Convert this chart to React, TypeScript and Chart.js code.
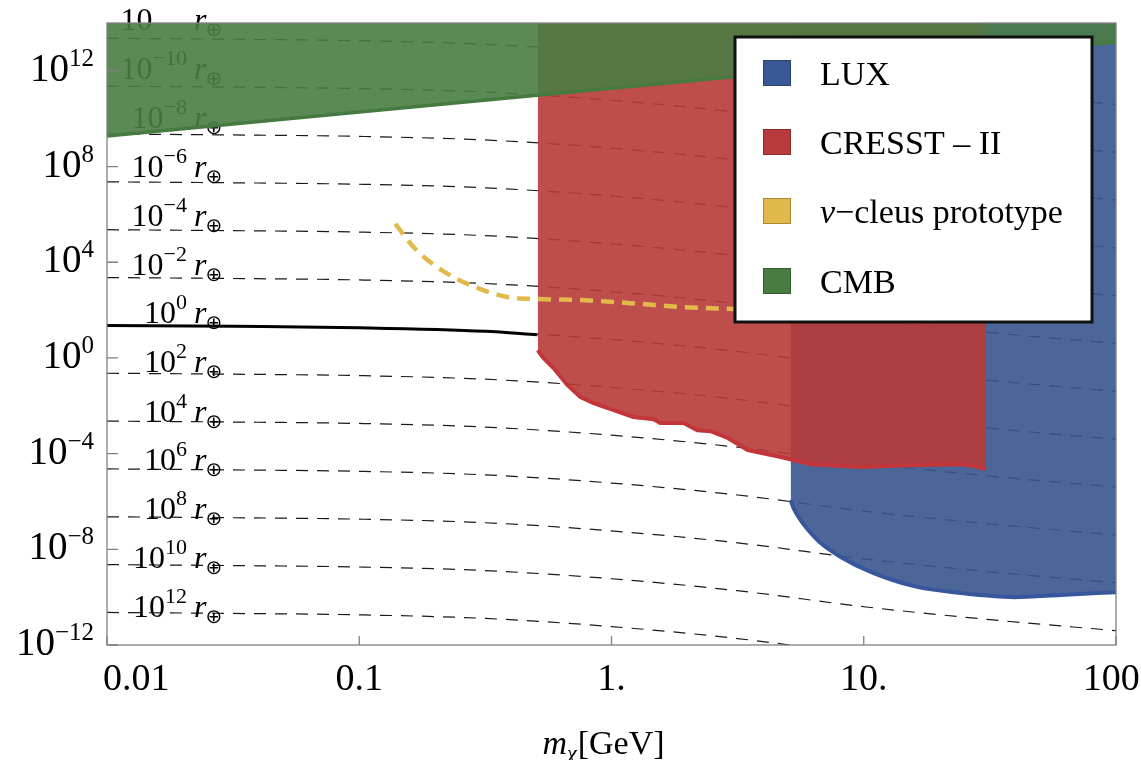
import React, { useEffect, useRef } from "react";
import { Chart, registerables } from "chart.js";

Chart.register(...registerables);

// ---------- data ----------
// Iso-radius reference curves: sigma vs mass for r = 10^e r_earth
const massGrid = [0.01, 0.0316, 0.1, 0.316, 1, 3.16, 10, 31.6, 100];
const radiusExponents = [-12, -10, -8, -6, -4, -2, 0, 2, 4, 6, 8, 10, 12];
const rLineM12 = [2.29e13, 2.09e13, 1.82e13, 1.29e13, 5.89e12, 1.86e12, 3.98e11, 1.15e11, 3.98e10];
const rLineM10 = [2.29e11, 2.09e11, 1.82e11, 1.29e11, 5.89e10, 1.86e10, 3.98e9, 1.15e9, 3.98e8];
const rLineM8 = [2.29e9, 2.09e9, 1.82e9, 1.29e9, 5.89e8, 1.86e8, 3.98e7, 1.15e7, 3.98e6];
const rLineM6 = [2.29e7, 2.09e7, 1.82e7, 1.29e7, 5.89e6, 1.86e6, 3.98e5, 1.15e5, 3.98e4];
const rLineM4 = [2.29e5, 2.09e5, 1.82e5, 1.29e5, 5.89e4, 1.86e4, 3.98e3, 1.15e3, 3.98e2];
const rLineM2 = [2.29e3, 2.09e3, 1.82e3, 1.29e3, 5.89e2, 1.86e2, 3.98e1, 1.15e1, 3.98e0];
const rLine0 = [2.29e1, 2.09e1, 1.82e1, 1.29e1, 5.89e0, 1.86e0, 3.98e-1, 1.15e-1, 3.98e-2];
const rLineP2 = [2.29e-1, 2.09e-1, 1.82e-1, 1.29e-1, 5.89e-2, 1.86e-2, 3.98e-3, 1.15e-3, 3.98e-4];
const rLineP4 = [2.29e-3, 2.09e-3, 1.82e-3, 1.29e-3, 5.89e-4, 1.86e-4, 3.98e-5, 1.15e-5, 3.98e-6];
const rLineP6 = [2.29e-5, 2.09e-5, 1.82e-5, 1.29e-5, 5.89e-6, 1.86e-6, 3.98e-7, 1.15e-7, 3.98e-8];
const rLineP8 = [2.29e-7, 2.09e-7, 1.82e-7, 1.29e-7, 5.89e-8, 1.86e-8, 3.98e-9, 1.15e-9, 3.98e-10];
const rLineP10 = [2.29e-9, 2.09e-9, 1.82e-9, 1.29e-9, 5.89e-10, 1.86e-10, 3.98e-11, 1.15e-11, 3.98e-12];
const rLineP12 = [2.29e-11, 2.09e-11, 1.82e-11, 1.29e-11, 5.89e-12, 1.86e-12, 3.98e-13, 1.15e-13, 3.98e-14];
const radiusLines = [rLineM12, rLineM10, rLineM8, rLineM6, rLineM4, rLineM2, rLine0, rLineP2, rLineP4, rLineP6, rLineP8, rLineP10, rLineP12];
// sigma at which each curve label sits (baseline)
const radiusLabelSigma = [5.0e13, 4.6e11, 4.2e9, 3.7e7, 3.4e5, 3.0e3, 2.75e1, 2.5e-1, 2.2e-3, 2.0e-5, 1.8e-7, 1.7e-9, 1.5e-11];

// solid r = 1 r_earth segment
const solidMass = [0.01, 0.0316, 0.1, 0.316, 0.508];
const solidSigma = [22.9, 20.9, 18.2, 12.9, 9.2];

// CMB lower boundary (excluded above)
const cmbMass = [0.01, 0.1, 1, 10, 100];
const cmbSigma = [1.9e9, 1.9e10, 1.86e11, 1.82e12, 1.6e13];

// CRESST-II lower boundary
const cresstMass = [0.51, 0.537, 0.589, 0.668, 0.753, 0.849, 1.02, 1.22, 1.47, 1.56, 1.93, 2.19, 2.47, 2.89, 3.47, 4.69, 6.17, 9.73, 15.4, 24.3, 27.4, 30.5];
const cresstSigma = [2.1, 1.0, 0.38, 0.074, 0.023, 0.0129, 0.0066, 0.0034, 0.00275, 0.0019, 0.0019, 0.00095, 0.00087, 0.00045, 1.41e-4, 7.2e-5, 3.6e-5, 2.75e-5, 3.3e-5, 3.6e-5, 3.0e-5, 2.24e-5];

// LUX lower boundary
const luxMass = [5.13, 5.27, 5.62, 6.17, 6.75, 8.1, 10.7, 15.8, 24.3, 39.4, 60.5, 100];
const luxSigma = [1.15e-6, 5.25e-7, 1.66e-7, 4.8e-8, 1.82e-8, 4.8e-9, 1.12e-9, 2.9e-10, 1.48e-10, 1.0e-10, 1.23e-10, 1.62e-10];

// nu-cleus prototype
const nucleusMass = [0.139, 0.164, 0.191, 0.236, 0.302, 0.386, 0.508, 0.753, 1.19, 1.88, 3.05];
const nucleusSigma = [3.98e5, 4.37e4, 1.02e4, 2.4e3, 759, 355, 288, 263, 195, 135, 110];

// axes
const xTicks = [0.01, 0.1, 1, 10, 100];
const xTickLabels = ["0.01", "0.1", "1.", "10.", "100."];
const yTicks = [1e12, 1e8, 1e4, 1, 1e-4, 1e-8, 1e-12];
const yTickExponents = ["12", "8", "4", "0", "\u22124", "\u22128", "\u221212"];

// legend
const legendLabels = ["LUX", "CRESST \u2013 II", "\u03bd\u2212cleus prototype", "CMB"];
const legendColors = ["rgb(58,88,150)", "rgb(184,58,60)", "rgb(224,184,76)", "rgb(72,122,66)"];

const SERIF = '"Liberation Serif", "Times New Roman", "DejaVu Serif", serif';

function toPoints(xs: number[], ys: number[]) {
  return xs.map((x, i) => ({ x, y: ys[i] }));
}

const FIRST_DASH_INDEX = 5;

function drawPower(ctx: CanvasRenderingContext2D, xRight: number, yBase: number, base: string, exp: string,
  baseSize: number, expSize: number, rise: number, drawExp = true) {
  ctx.font = `${expSize}px ${SERIF}`;
  const we = ctx.measureText(exp).width;
  ctx.font = `${baseSize}px ${SERIF}`;
  const wb = ctx.measureText(base).width;
  ctx.textAlign = "left";
  ctx.textBaseline = "alphabetic";
  ctx.fillText(base, xRight - we - wb, yBase);
  if (drawExp) {
    ctx.font = `${expSize}px ${SERIF}`;
    ctx.fillText(exp, xRight - we, yBase - rise);
  }
}

const overlayPlugin = {
  id: "overlay",
  afterDatasetDraw(chart: any, args: any) {
    if (args.index !== FIRST_DASH_INDEX) return;
    const ctx: CanvasRenderingContext2D = chart.ctx;
    const ys = chart.scales.y;
    const left = chart.chartArea.left;
    ctx.save();
    ctx.fillStyle = "#000";
    radiusExponents.forEach((e, k) => {
      const yb = ys.getPixelForValue(radiusLabelSigma[k]);
      const expStr = e < 0 ? "\u2212" + Math.abs(e) : String(e);
      drawPower(ctx, left + 80, yb, "10", expStr, 32, 22, 14, k !== 0);
      ctx.font = `italic 32px ${SERIF}`;
      ctx.fillText("r", left + 87, yb);
      const wr = ctx.measureText("r").width;
      ctx.font = `20px "DejaVu Sans", ${SERIF}`;
      ctx.fillText("\u2295", left + 87 + wr - 1, yb + 6);
    });
    ctx.restore();
  },
  afterDraw(chart: any) {
    const ctx: CanvasRenderingContext2D = chart.ctx;
    const { left, right, top, bottom } = chart.chartArea;
    const xs = chart.scales.x;
    const ys = chart.scales.y;
    ctx.save();
    // frame
    ctx.strokeStyle = "#808080";
    ctx.lineWidth = 1.3;
    ctx.strokeRect(left, top, right - left, bottom - top);
    // ticks
    ctx.beginPath();
    xTicks.forEach((v) => {
      const x = xs.getPixelForValue(v);
      ctx.moveTo(x, bottom);
      ctx.lineTo(x, bottom - 9);
    });
    yTicks.forEach((v) => {
      const y = ys.getPixelForValue(v);
      ctx.moveTo(left, y);
      ctx.lineTo(left + 11, y);
    });
    ctx.stroke();
    // x tick labels
    ctx.fillStyle = "#000";
    ctx.font = `38px ${SERIF}`;
    ctx.textBaseline = "alphabetic";
    xTicks.forEach((v, i) => {
      const x = xs.getPixelForValue(v);
      if (i === 0) {
        ctx.textAlign = "left";
        ctx.fillText(xTickLabels[i], x - 4, bottom + 45);
      } else {
        ctx.textAlign = "center";
        ctx.fillText(xTickLabels[i], x, bottom + 45);
      }
    });
    // y tick labels
    yTicks.forEach((v, i) => {
      const y = ys.getPixelForValue(v);
      drawPower(ctx, left - 13, y + 10, "10", yTickExponents[i], 39, 25, 15);
    });
    // x axis title  m_chi [GeV]
    {
      const yb = bottom + 109;
      ctx.textAlign = "left";
      ctx.font = `italic 34px ${SERIF}`;
      const wm = ctx.measureText("m").width;
      ctx.font = `italic 22px ${SERIF}`;
      const wc = ctx.measureText("\u03c7").width;
      ctx.font = `34px ${SERIF}`;
      const wg = ctx.measureText("[GeV]").width;
      const x0 = 603 - (wm + wc + wg) / 2;
      ctx.font = `italic 34px ${SERIF}`;
      ctx.fillText("m", x0, yb);
      ctx.font = `italic 22px ${SERIF}`;
      ctx.fillText("\u03c7", x0 + wm, yb + 6);
      ctx.font = `34px ${SERIF}`;
      ctx.fillText("[GeV]", x0 + wm + wc + 1, yb);
    }
    // legend
    {
      const bx = 735, by = 37, bw = 357, bh = 285;
      ctx.fillStyle = "#fff";
      ctx.fillRect(bx, by, bw, bh);
      ctx.strokeStyle = "#111";
      ctx.lineWidth = 3;
      ctx.strokeRect(bx, by, bw, bh);
      const centers = [73, 142, 211, 281];
      legendLabels.forEach((lab, i) => {
        const cy = centers[i];
        ctx.fillStyle = legendColors[i];
        ctx.fillRect(763, cy - 13, 28, 26);
        ctx.strokeStyle = "rgba(0,0,0,0.25)";
        ctx.lineWidth = 1;
        ctx.strokeRect(763.5, cy - 12.5, 27, 25);
        ctx.fillStyle = "#000";
        ctx.textAlign = "left";
        if (i === 2) {
          ctx.font = `italic 34px ${SERIF}`;
          ctx.fillText("\u03bd", 820, cy + 12);
          const wn = ctx.measureText("\u03bd").width;
          ctx.font = `34px ${SERIF}`;
          ctx.fillText(lab.slice(1), 820 + wn, cy + 12);
        } else {
          ctx.font = `34px ${SERIF}`;
          ctx.fillText(lab, 820, cy + 12);
        }
      });
    }
    ctx.restore();
  },
};

export default function App() {
  const ref = useRef<HTMLCanvasElement>(null);
  useEffect(() => {
    const canvas = ref.current;
    if (!canvas) return;
    const datasets: any[] = [
      {
        label: "nucleus", data: toPoints(nucleusMass, nucleusSigma),
        borderColor: "rgb(226,185,75)", borderWidth: 4.5, borderDash: [13, 8],
        fill: false, order: 0, cubicInterpolationMode: "monotone",
      },
      {
        label: "r0solid", data: toPoints(solidMass, solidSigma),
        borderColor: "#000", borderWidth: 3, fill: false, order: 1,
        cubicInterpolationMode: "monotone",
      },
      {
        label: "CMB", data: toPoints(cmbMass, cmbSigma),
        borderColor: "rgb(70,122,64)", borderWidth: 3.5,
        backgroundColor: "rgba(74,125,69,0.9)", fill: "end", order: 2, tension: 0,
      },
      {
        label: "CRESST", data: toPoints(cresstMass, cresstSigma),
        borderColor: "rgb(194,54,57)", borderWidth: 4,
        backgroundColor: "rgba(183,59,57,0.9)", fill: "end", order: 3, tension: 0,
      },
      {
        label: "LUX", data: toPoints(luxMass, luxSigma),
        borderColor: "rgb(56,86,156)", borderWidth: 4,
        backgroundColor: "rgba(57,85,142,0.9)", fill: "end", order: 4,
        cubicInterpolationMode: "monotone",
      },
      ...radiusLines.map((row, k) => ({
        label: "r" + radiusExponents[k], data: toPoints(massGrid, row),
        borderColor: "#1a1a1a", borderWidth: 1.2, borderDash: [12, 9],
        fill: false, order: 5, cubicInterpolationMode: "monotone",
      })),
    ];
    const chart = new Chart(canvas, {
      type: "line",
      data: { datasets },
      options: {
        responsive: false,
        animation: false,
        layout: { padding: { left: 107, top: 23, right: 25, bottom: 115 } },
        elements: { point: { radius: 0, hoverRadius: 0 }, line: { borderCapStyle: "butt" } },
        scales: {
          x: { type: "logarithmic", min: 0.01, max: 100, display: false, bounds: "data" },
          y: { type: "logarithmic", min: 1e-12, max: 1e14, display: false, bounds: "data" },
        },
        plugins: { legend: { display: false }, tooltip: { enabled: false } },
        events: [],
      } as any,
      plugins: [overlayPlugin as any],
    });
    return () => chart.destroy();
  }, []);
  return (
    <div style={{ position: "fixed", left: 0, top: 0, width: 1141, height: 760, background: "#fff" }}>
      <canvas ref={ref} width={1141} height={760} style={{ display: "block", width: 1141, height: 760 }} />
    </div>
  );
}
